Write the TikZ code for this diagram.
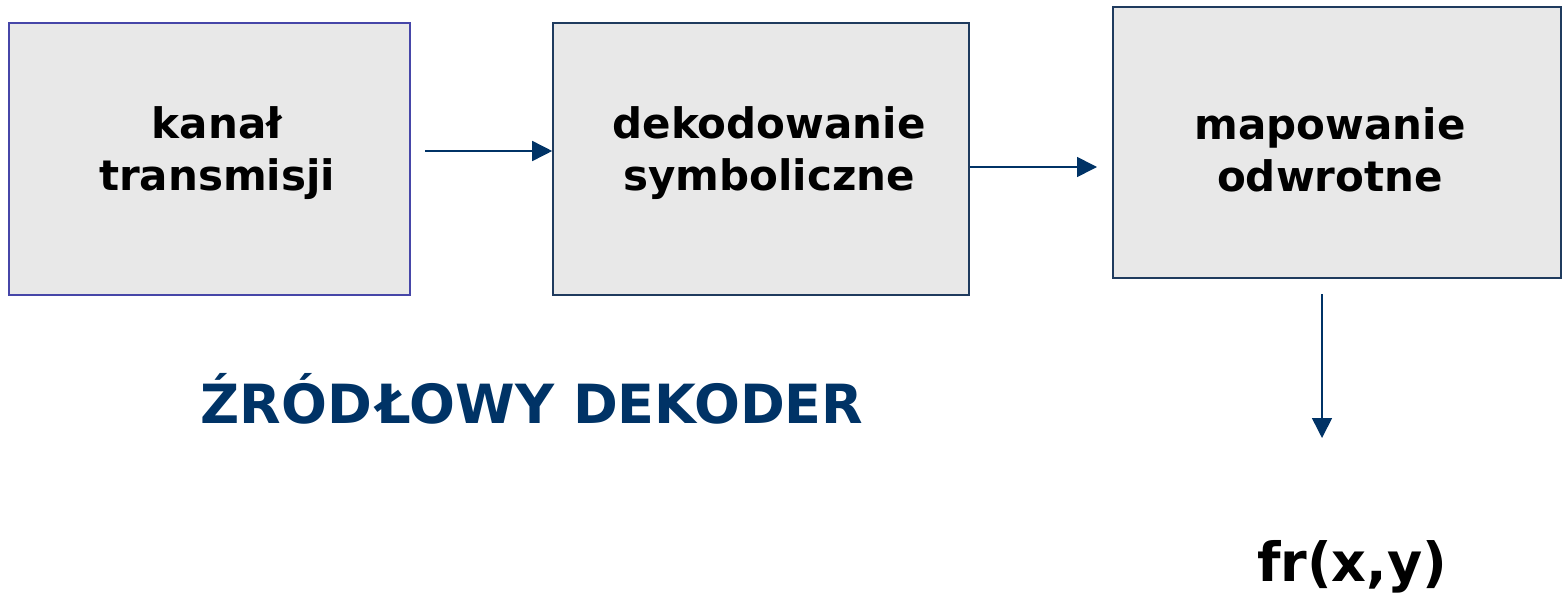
\documentclass[tikz,border=0pt]{standalone}
\usepackage{fontspec}
\setmainfont{DejaVu Sans}
\usetikzlibrary{arrows.meta,calc}
\definecolor{navy}{HTML}{003366}
\definecolor{boxfill}{HTML}{E8E8E8}
\definecolor{edgeA}{HTML}{4646A8}
\definecolor{edgeB}{HTML}{1F3B5E}
\tikzset{
  blk/.style={draw=#1, fill=boxfill, line width=1.6pt, inner sep=0pt},
  blktext/.style={align=center, font=\bfseries\fontsize{42}{52}\selectfont, text=black, inner sep=0pt},
  conn/.style={draw=navy, line width=1.6pt, -{Triangle[length=20pt,width=20pt]}},
}
\begin{document}
\begin{tikzpicture}[x=1pt,y=-1pt]
\useasboundingbox (0,0) rectangle (1566,594);
\node[blk=edgeA, minimum width=401pt, minimum height=272pt] (b1) at (209.5,159) {};
\node[blk=edgeB, minimum width=416pt, minimum height=272pt] (b2) at (761,159) {};
\node[blk=edgeB, minimum width=448pt, minimum height=271pt] (b3) at (1337,142.5) {};
\node[blktext] (t1) at (217,153) {kanał\\transmisji};
\node[blktext] (t2) at (769,153) {dekodowanie\\symboliczne};
\node[blktext] (t3) at (1330,150) {mapowanie\\odwrotne};
\coordinate (a1s) at (425,151);
\coordinate (a2e) at (1097,167);
\coordinate (a3s) at (1322,294);
\coordinate (a3e) at (1322,438);
\draw[conn] (a1s) -- (a1s -| b2.west);
\draw[conn] (a2e -| b2.east) -- (a2e);
\draw[conn] (a3s) -- (a3e);
\node[anchor=base, font=\bfseries\fontsize{54}{60}\selectfont, text=navy, inner sep=0pt] (title) at (532,423) {ŹRÓD\kern5ptŁOWY DEKODER};
\node[anchor=base, font=\bfseries\fontsize{54}{60}\selectfont, text=black, inner sep=0pt] (out) at (1352,581) {fr(x,y)};
\end{tikzpicture}
\end{document}
